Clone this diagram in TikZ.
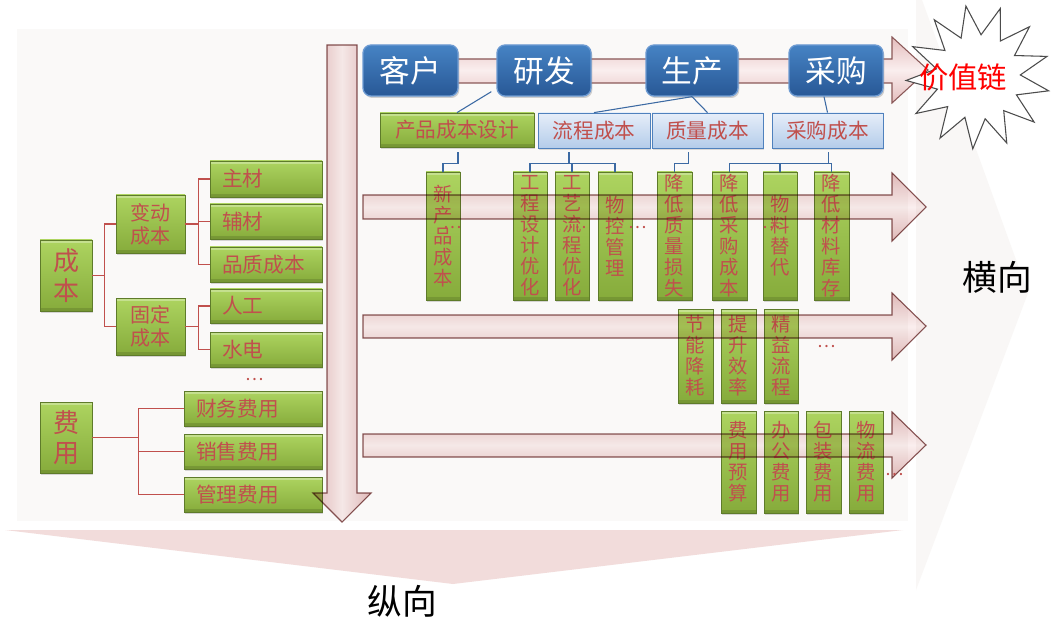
\documentclass[tikz,border=0pt]{standalone}
\usepackage{fontspec}
\setmainfont{Noto Sans CJK SC}
\usetikzlibrary{shapes.geometric,shadows,calc}

\definecolor{txtred}{HTML}{C0504D}
\definecolor{gtop}{HTML}{ADD460}
\definecolor{gbot}{HTML}{86AB3B}
\definecolor{gdraw}{HTML}{5E7B2A}
\definecolor{btop}{HTML}{4683C4}
\definecolor{bbot}{HTML}{285896}
\definecolor{bdraw}{HTML}{6C9AD2}
\definecolor{ltop}{HTML}{E6EEF9}
\definecolor{lbot}{HTML}{B4CCEA}
\definecolor{ldraw}{HTML}{4F81BD}
\definecolor{linkblue}{HTML}{3C6AA3}
\definecolor{arrfill}{HTML}{E4BDBD}
\definecolor{arrmid}{HTML}{FAEEEE}
\definecolor{arrdraw}{HTML}{8A5858}
\definecolor{bgcol}{HTML}{FAF9F8}
\definecolor{bandcol}{HTML}{F2DCDB}
\definecolor{chevcol}{HTML}{F9F7F6}

\newcommand\myfs[2]{\fontsize{#1}{#2}\selectfont}
% box by pixel corners: style, name, x1, y1, x2, y2, text
\newcommand\bx[7]{%
  \pgfmathsetmacro\bxw{(#5-#3)*0.75}%
  \pgfmathsetmacro\bxh{(#6-#4)*0.75}%
  \node[#1,minimum width=\bxw pt,minimum height=\bxh pt] (#2) at ({(#3+#5)/2},{(#4+#6)/2}) {#7};}
% left aligned text box
\newcommand\bxl[7]{%
  \pgfmathsetmacro\bxw{(#5-#3)*0.75}%
  \pgfmathsetmacro\bxt{(#5-#3)*0.75-18}%
  \pgfmathsetmacro\bxh{(#6-#4)*0.75}%
  \node[#1,minimum width=\bxw pt,text width=\bxt pt,inner xsep=9pt,align=left,minimum height=\bxh pt] (#2) at ({(#3+#5)/2},{(#4+#6)/2}) {#7};}

\begin{document}
\begin{tikzpicture}[x=0.75pt,y=-0.75pt,
  gbox/.style={draw=gdraw,line width=0.6pt,top color=gtop,bottom color=gbot,
    text=txtred,inner sep=0pt,
    drop shadow={shadow xshift=1pt,shadow yshift=-1.5pt,opacity=0.3},
    path picture={\fill[white,opacity=0.3] (path picture bounding box.north west) rectangle ([yshift=-2.5pt]path picture bounding box.north east);
      \fill[black,opacity=0.12] (path picture bounding box.south west) rectangle ([yshift=2pt]path picture bounding box.south east);}},
  gcol/.style={gbox,align=center,font=\myfs{14.5}{15.75}},
  gleft/.style={gbox,font=\myfs{15.5}{17}},
  gtwo/.style={gbox,align=center,font=\myfs{15}{17.25}},
  gbig/.style={gbox,align=center,font=\myfs{19.5}{22.5}},
  topbox/.style={draw=bdraw,line width=1pt,rounded corners=6pt,top color=btop,bottom color=bbot,
    text=white,inner sep=0pt,font=\myfs{23}{25},
    drop shadow={shadow xshift=1pt,shadow yshift=-1.5pt,opacity=0.35}},
  lbox/.style={draw=ldraw,line width=0.6pt,top color=ltop,bottom color=lbot,text=txtred,
    inner sep=0pt,font=\myfs{15.5}{17},
    drop shadow={shadow xshift=1pt,shadow yshift=-1.5pt,opacity=0.25}},
  redline/.style={draw=txtred,line width=0.9pt},
  blueline/.style={draw=linkblue,line width=0.8pt},
  arrowsty/.style={draw=arrdraw,line width=0.8pt,top color=arrfill,bottom color=arrfill,middle color=arrmid},
  varrowsty/.style={draw=arrdraw,line width=0.8pt,left color=arrfill,right color=arrfill,middle color=arrmid},
  dots/.style={text=txtred,inner sep=0pt,font=\myfs{13}{13}},
  axis label/.style={text=black,inner sep=0pt,font=\myfs{26}{28}}
]
\useasboundingbox (0,0) rectangle (1062,623);
\fill[white] (0,0) rectangle (1062,623);

% backgrounds
\fill[chevcol] (916,0) -- (922,0) -- (1028,293) -- (916,590) -- cycle;
\fill[bgcol] (17,29) rectangle (908,521);
\fill[bandcol] (5,530) -- (903,530) -- (453,584) -- cycle;

% value-chain arrow (behind the top boxes)
\path[arrowsty] (370,59) -- (892,59) -- (892,37) -- (928,70) -- (892,103) -- (892,83) -- (370,83) -- cycle;

% top row
\bx{topbox}{kehu}{363}{45}{458}{96}{客户}
\bx{topbox}{yanfa}{497}{45}{591}{96}{研发}
\bx{topbox}{shengchan}{646}{45}{738}{96}{生产}
\bx{topbox}{caigou}{789}{45}{883}{96}{采购}

% second row
\bx{gleft}{cpcb}{380}{113}{534}{147}{产品成本设计}
\bx{lbox}{lccb}{538}{113}{650}{148}{流程成本}
\bx{lbox}{zlcb}{652}{113}{763}{148}{质量成本}
\bx{lbox}{cgcb}{772}{113}{883}{148}{采购成本}

\draw[blueline] ($(yanfa.south west)+(-5,-5)$) -- (cpcb.north);
\draw[blueline] (shengchan.south) -- (lccb.north);
\draw[blueline] (shengchan.south) -- (zlcb.north);
\draw[blueline] ($(caigou.south)+(-12,0)$) -- (cgcb.north);

% columns row 1
\bx{gcol}{xcp}{426}{172}{460}{300}{新\\产\\品\\成\\本}
\bx{gcol}{gcsj}{513}{172}{547}{300}{工\\程\\设\\计\\优\\化}
\bx{gcol}{gylc}{555}{172}{589}{300}{工\\艺\\流\\程\\优\\化}
\bx{gcol}{wkgl}{598}{172}{632}{300}{物\\控\\管\\理}
\bx{gcol}{jdzl}{657}{172}{692}{300}{降\\低\\质\\量\\损\\失}
\bx{gcol}{jdcg}{712}{172}{747}{300}{降\\低\\采\\购\\成\\本}
\bx{gcol}{wltd}{763}{172}{797}{300}{物\\料\\替\\代}
\bx{gcol}{jdcl}{814}{172}{849}{300}{降\\低\\材\\料\\库\\存}

% columns row 2
\bx{gcol}{jnjh}{678}{309}{713}{403}{节\\能\\降\\耗}
\bx{gcol}{tsxl}{721}{309}{756}{403}{提\\升\\效\\率}
\bx{gcol}{jylc}{764}{309}{798}{403}{精\\益\\流\\程}

% columns row 3
\bx{gcol}{fyys}{721}{411}{756}{513}{费\\用\\预\\算}
\bx{gcol}{bgfy}{764}{411}{798}{513}{办\\公\\费\\用}
\bx{gcol}{bzfy}{806}{411}{841}{513}{包\\装\\费\\用}
\bx{gcol}{wlfy}{849}{411}{883}{513}{物\\流\\费\\用}

% elbow connectors from second row to columns
\draw[blueline] ($(cpcb.south)+(1,5)$) -- ++(0,11) -| (xcp.north);
\draw[blueline] ($(lccb.south)+(-25,4)$) -- ++(0,11) -| (gcsj.north);
\draw[blueline] ($(lccb.south)+(-25,4)$) -- ++(0,11) -| (gylc.north);
\draw[blueline] ($(lccb.south)+(-25,4)$) -- ++(0,11) -| (wkgl.north);
\draw[blueline] ($(zlcb.south)+(-19,4)$) -- ++(0,11) -| (jdzl.north);
\draw[blueline] ($(cgcb.south)+(1,4)$) -- ++(0,11) -| (jdcg.north);
\draw[blueline] ($(cgcb.south)+(1,4)$) -- ++(0,11) -| (wltd.north);
\draw[blueline] ($(cgcb.south)+(1,4)$) -- ++(0,11) -| (jdcl.north);

% horizontal arrows over the columns
\begin{scope}[blend mode=multiply]
\path[arrowsty] (363,195) -- (892,195) -- (892,173) -- (926,207) -- (892,241) -- (892,219) -- (363,219) -- cycle;
\path[arrowsty] (363,315) -- (892,315) -- (892,293) -- (926,326) -- (892,360) -- (892,338) -- (363,338) -- cycle;
\path[arrowsty] (363,434) -- (892,434) -- (892,412) -- (926,445) -- (892,478) -- (892,457) -- (363,457) -- cycle;
\end{scope}

% left tree
\bx{gbig}{chengben}{40}{240}{92}{311}{成\\本}
\bx{gtwo}{biandong}{116}{195}{185}{253}{变动\\成本}
\bx{gtwo}{guding}{116}{298}{185}{355}{固定\\成本}
\bxl{gleft}{zhucai}{210}{161}{322}{197}{主材}
\bxl{gleft}{fucai}{210}{204}{322}{239}{辅材}
\bxl{gleft}{pinzhi}{210}{247}{322}{282}{品质成本}
\bxl{gleft}{rengong}{210}{289}{322}{323}{人工}
\bxl{gleft}{shuidian}{210}{332}{322}{367}{水电}
\bx{gbig}{feiyong}{40}{402}{92}{473}{费\\用}
\bxl{gleft}{caiwu}{184}{391}{322}{426}{财务费用}
\bxl{gleft}{xiaoshou}{184}{434}{322}{469}{销售费用}
\bxl{gleft}{guanli}{184}{477}{322}{512}{管理费用}

\draw[redline] (chengben.east) -- ++(12,0) |- (biandong.west);
\draw[redline] (chengben.east) -- ++(12,0) |- (guding.west);
\draw[redline] (biandong.east) -- ++(13,0) |- (zhucai.west);
\draw[redline] (biandong.east) -- ++(13,0) |- (fucai.west);
\draw[redline] (biandong.east) -- ++(13,0) |- (pinzhi.west);
\draw[redline] (guding.east) -- ++(13,0) |- (rengong.west);
\draw[redline] (guding.east) -- ++(13,0) |- (shuidian.west);
\draw[redline] (feiyong.east) -- ++(46,0) |- (caiwu.west);
\draw[redline] (feiyong.east) -- ++(46,0) |- (xiaoshou.west);
\draw[redline] (feiyong.east) -- ++(46,0) |- (guanli.west);

% vertical arrow
\begin{scope}[blend mode=multiply]
\path[varrowsty] (327,45) -- (357,45) -- (357,493) -- (371,493) -- (342,522) -- (313,493) -- (327,493) -- cycle;
\end{scope}

% star
\node[star,star points=13,star point ratio=1.7,draw=black!70,line width=0.8pt,fill=white,
  minimum size=108pt,inner sep=0pt,shape border rotate=-18] (vstar) at (978,77) {};
\node[text=red,inner sep=0pt,font=\myfs{22}{24}] (vchain) at (963,77) {价值链};

% dots
\node[dots] (d1) at (255,380) {…};
\node[dots] (d2) at (453,228) {…};
\node[dots] (d3) at (578,228) {…};
\node[dots] (d4) at (638,228) {…};
\node[dots] (d5) at (772,228) {…};
\node[dots] (d6) at (827,347) {…};
\node[dots] (d7) at (895,475) {…};

% axis labels
\node[axis label] (hengxiang) at (997,277) {横向};
\node[axis label] (zongxiang) at (402,601) {纵向};
\end{tikzpicture}
\end{document}
